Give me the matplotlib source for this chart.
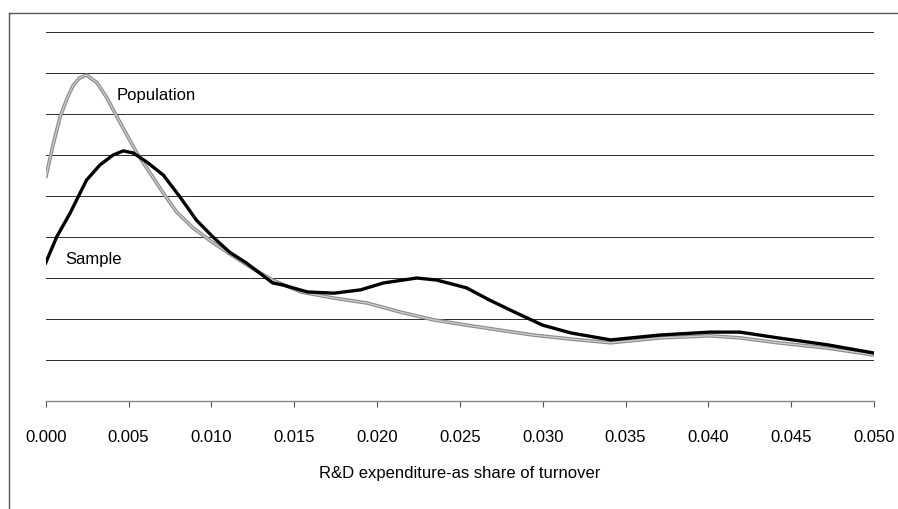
import matplotlib
matplotlib.use("Agg")
import matplotlib.pyplot as plt
from matplotlib import font_manager
from matplotlib.lines import Line2D

# population density (grey)
pop_x = [0, 0.00044, 0.00087, 0.0013, 0.00166, 0.00205, 0.00247, 0.0031, 0.0037, 0.0043,
         0.0049, 0.0055, 0.0063, 0.0071, 0.0079, 0.0089, 0.0101, 0.0113, 0.0125, 0.0137,
         0.0154, 0.0174, 0.0194, 0.0214, 0.0234, 0.0254, 0.0274, 0.0294, 0.0317, 0.0341,
         0.0371, 0.0401, 0.0419, 0.0442, 0.0472, 0.050]
pop_y = [5.44, 6.24, 6.93, 7.39, 7.70, 7.88, 7.95, 7.76, 7.39, 6.93,
         6.49, 6.05, 5.56, 5.07, 4.61, 4.22, 3.86, 3.54, 3.23, 2.95,
         2.66, 2.51, 2.39, 2.17, 1.98, 1.85, 1.73, 1.61, 1.51, 1.42,
         1.54, 1.59, 1.54, 1.42, 1.29, 1.12]

# sample density (black)
smp_x = [0, 0.00066, 0.00147, 0.00207, 0.00247, 0.00328, 0.00407, 0.00468, 0.00528, 0.0061,
         0.0071, 0.0081, 0.0091, 0.0101, 0.0111, 0.0121, 0.0137, 0.0143, 0.0158, 0.0174,
         0.019, 0.0204, 0.0224, 0.0236, 0.0254, 0.0268, 0.0284, 0.030, 0.0317, 0.0341,
         0.0371, 0.0401, 0.0419, 0.0442, 0.0472, 0.050]
smp_y = [3.37, 4.00, 4.58, 5.07, 5.39, 5.76, 6.00, 6.10, 6.05, 5.83,
         5.51, 4.98, 4.41, 4.00, 3.63, 3.37, 2.88, 2.83, 2.66, 2.63,
         2.71, 2.88, 3.00, 2.95, 2.76, 2.46, 2.15, 1.85, 1.66, 1.49,
         1.61, 1.68, 1.68, 1.54, 1.37, 1.17]

xticks = [0.000, 0.005, 0.010, 0.015, 0.020, 0.025, 0.030, 0.035, 0.040, 0.045, 0.050]
xlabel = "R&D expenditure-as share of turnover"

names = {f.name for f in font_manager.fontManager.ttflist}
if "Liberation Sans Narrow" in names:
    fam = ["Liberation Sans Narrow", "DejaVu Sans"]
    fs = 14
else:
    fam = ["Liberation Sans", "DejaVu Sans"]
    fs = 12
plt.rcParams["font.family"] = fam

W, H = 898, 509
fig = plt.figure(figsize=(W / 100, H / 100), dpi=100)
ax = fig.add_axes([45.7 / W, 1 - 401 / H, (874 - 45.7) / W, (401 - 32) / H])

# outer chart frame (left + top visible, rest cut off)
fig.add_artist(Line2D([9 / W, 9 / W], [0, 1 - 13 / H], transform=fig.transFigure,
                      color="#555555", lw=1.0))
fig.add_artist(Line2D([9 / W, 1.0], [1 - 13 / H, 1 - 13 / H], transform=fig.transFigure,
                      color="#555555", lw=1.0))

for g in range(1, 10):
    ax.axhline(g, color="#2a2a2a", lw=0.7, zorder=1)

ax.plot(pop_x, pop_y, color="#8c8c8c", lw=2.6, solid_capstyle="butt", zorder=3)
ax.plot(pop_x, pop_y, color="#cfcfcf", lw=0.9, zorder=3)
ax.plot(smp_x, smp_y, color="black", lw=2.4, zorder=4)

ax.text(0.00431, 7.45, "Population", fontsize=fs, ha="left", va="center", zorder=5)
ax.text(0.00117, 3.45, "Sample", fontsize=fs, ha="left", va="center", zorder=5)

ax.set_xlim(0, 0.05)
ax.set_ylim(0, 9)
ax.set_yticks([])
ax.set_xticks(xticks)
ax.set_xticklabels(["%.3f" % t for t in xticks], fontsize=fs)
ax.tick_params(axis="x", direction="out", length=4, width=0.8, color="#555555", pad=17)
ax.set_xlabel(xlabel, fontsize=fs, labelpad=15)

for s in ["left", "right", "top"]:
    ax.spines[s].set_visible(False)
ax.spines["bottom"].set_color("#888888")
ax.spines["bottom"].set_linewidth(1.0)

fig.savefig("out.png", dpi=100)
